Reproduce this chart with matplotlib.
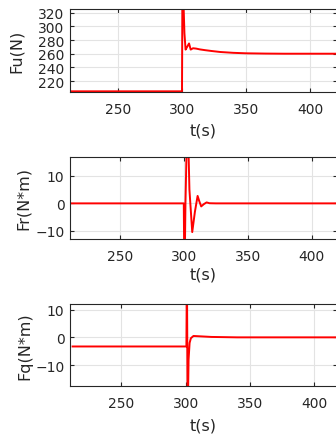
import matplotlib
matplotlib.use("Agg")
import matplotlib.pyplot as plt

# ---- data ----
t_fu = [212, 300.0, 300.3, 301.0, 301.9, 302.8, 304.0, 305.5, 306.8, 308.6, 311, 314, 318, 323, 330, 340, 350, 365, 380, 421]
fu   = [205, 205, 345, 345, 290, 266, 270, 275, 266, 268, 267.5, 266.3, 265.2, 264, 262.5, 261.3, 260.6, 260.2, 260, 260]

t_fr = [212, 299.9, 300.4, 301.2, 302.8, 304.3, 306.5, 308.6, 310.7, 312.0, 313.5, 315.5, 317.7, 320, 325, 421]
fr   = [0, 0, -30, 0, 35, 5, -10.4, -3, 2.7, 0.8, -1.1, -0.3, 0.35, 0.05, 0, 0]

t_fq = [212, 300.5, 300.9, 301.5, 302.2, 303.0, 304.0, 306.0, 310, 320, 340, 421]
fq   = [-3.3, -3.3, 25, -30, -8, -2, -0.3, 0.5, 0.4, 0.15, 0, 0]

xticks = [250, 300, 350, 400]
yticks_fu = [220, 240, 260, 280, 300, 320]
yticks_fr = [-10, 0, 10]
yticks_fq = [-10, 0, 10]

plt.rcParams['font.family'] = ['DejaVu Sans']

W, H = 336, 439
fig = plt.figure(figsize=(W / 100, H / 100), dpi=100)

def add_ax(left, top, right, bottom):
    return fig.add_axes([left / W, 1 - bottom / H, (right - left) / W, (bottom - top) / H])

panels = [
    (t_fu, fu, yticks_fu, (204, 325.4), "Fu(N)", (70, 10, 337, 93), (212.5, 421.1), 24, 31),
    (t_fr, fr, yticks_fr, (-12.9, 16.9), "Fr(N*m)", (70, 157.7, 337, 240), (211.0, 419.6), 31, 28),
    (t_fq, fq, yticks_fq, (-17.7, 12.06), "Fq(N*m)", (70, 305, 337, 387.3), (210.0, 417.6), 32, 31),
]

for t, v, yt, ylim, lab, box, xlim, ylab_right, xlab_gap in panels:
    ax = add_ax(*box)
    ax.plot(t, v, color='#ff0000', lw=1.4, clip_on=True)
    ax.set_xlim(*xlim)
    ax.set_ylim(*ylim)
    ax.set_xticks(xticks)
    ax.set_yticks(yt)
    ax.grid(True, color='#e3e3e3', lw=0.8)
    ax.set_axisbelow(True)
    ax.tick_params(direction='in', length=3, width=0.8, top=True, right=True,
                   labelsize=10, colors='#262626')
    ax.tick_params(axis='x', pad=7)
    ax.tick_params(axis='y', pad=4)
    for s in ax.spines.values():
        s.set_color('#262626')
        s.set_linewidth(0.8)
    ax.set_xlabel("t(s)", fontsize=11.5, color='#262626')
    ax.set_ylabel(lab, fontsize=11.5, color='#262626')
    wpx = box[2] - box[0]
    hpx = box[3] - box[1]
    ax.yaxis.set_label_coords((ylab_right - box[0]) / wpx, 0.5)
    ax.xaxis.set_label_coords(0.5, -xlab_gap / hpx)

fig.savefig("out.png", dpi=100)
